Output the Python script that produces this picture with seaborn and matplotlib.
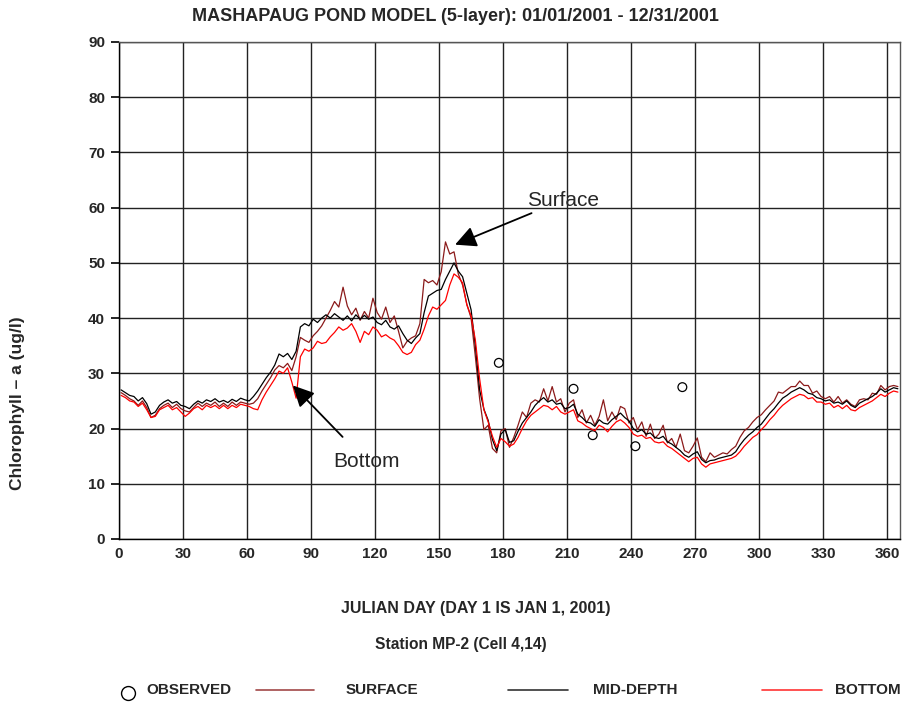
import numpy as np
import pandas as pd
import seaborn as sns
import matplotlib.pyplot as plt
from matplotlib.lines import Line2D

# model output, read every second julian day (1, 3, 5, ... 365)
surface = [
    26.5, 26.0, 25.4, 25.0, 24.2, 25.0, 23.8, 22.0, 22.4, 23.6,
    24.2, 24.6, 23.8, 24.4, 23.6, 23.2, 23.0, 23.8, 24.6, 24.0,
    24.6, 24.2, 24.8, 24.0, 24.6, 24.0, 24.8, 24.2, 24.8, 24.6,
    24.4, 24.6, 25.4, 26.8, 28.0, 29.2, 30.6, 31.4, 31.0, 31.8,
    30.5, 33.0, 36.5, 36.0, 35.6, 36.8, 37.6, 38.6, 40.0, 41.4,
    43.0, 42.0, 45.6, 42.2, 40.6, 41.8, 39.6, 41.2, 40.0, 43.6,
    41.0, 39.8, 42.0, 39.2, 40.4, 37.6, 34.6, 35.8, 36.4, 36.8,
    39.0, 47.0, 46.4, 46.8, 46.0, 48.4, 53.8, 51.6, 52.0, 48.0,
    46.0, 42.5, 40.0, 33.0, 25.4, 19.8, 20.6, 16.4, 15.6, 19.6,
    20.0, 16.6, 18.4, 20.6, 23.0, 22.0, 24.6, 25.2, 24.8, 27.2,
    25.0, 27.6, 24.8, 25.4, 23.0, 24.6, 25.2, 22.0, 23.4, 21.0,
    22.4, 20.6, 22.2, 25.2, 21.4, 23.0, 21.6, 24.0, 23.6, 21.0,
    22.0, 19.8, 21.2, 18.6, 20.8, 18.2, 19.0, 20.6, 17.4, 18.2,
    16.6, 19.0, 16.0, 15.6, 16.8, 18.3, 14.8, 14.0, 15.6, 14.8,
    15.2, 15.6, 15.4, 16.2, 16.8, 18.4, 19.6, 20.2, 21.2, 22.0,
    22.5, 23.4, 24.2, 25.0, 26.6, 26.4, 27.0, 27.6, 27.6, 28.6,
    27.8, 27.8, 26.4, 26.8, 25.8, 25.4, 25.8, 24.8, 25.8, 24.6,
    25.2, 24.4, 24.0, 25.2, 25.4, 25.2, 26.4, 26.2, 27.8, 27.0,
    27.6, 27.8, 27.6,
]
mid_depth = [
    27.0, 26.5, 26.0, 25.8, 25.0, 25.6, 24.5, 22.6, 23.0, 24.2,
    24.8, 25.2, 24.6, 24.9, 24.2, 24.0, 23.6, 24.4, 25.0, 24.6,
    25.2, 24.9, 25.4, 24.8, 25.1, 24.7, 25.3, 24.9, 25.5, 25.2,
    25.0, 25.8, 26.8, 28.0, 29.2, 30.2, 31.5, 33.5, 33.0, 33.6,
    32.5, 34.0, 38.4, 39.0, 38.6, 39.8, 39.2, 40.0, 40.6, 40.0,
    40.8, 40.2, 39.6, 40.4, 39.5, 40.6, 39.8, 40.5, 39.8, 40.2,
    39.2, 38.8, 39.6, 38.4, 38.0, 38.6, 37.2, 36.0, 35.4, 36.4,
    37.2, 41.0, 44.0, 44.5, 45.0, 45.2, 47.0, 48.5, 50.0, 48.5,
    47.5, 44.5, 41.5, 35.0, 27.0, 23.5, 21.5, 18.0, 16.0, 19.0,
    19.8, 17.5, 17.8, 19.5, 21.0, 22.0, 23.0, 24.2, 25.0, 25.6,
    24.8, 25.2, 24.4, 24.6, 23.6, 23.8, 24.4, 22.6, 22.0, 21.2,
    21.0, 20.4, 21.6, 21.0, 20.8, 21.6, 22.2, 22.8, 22.0, 21.4,
    20.0, 19.4, 19.8, 19.0, 19.2, 18.4, 18.2, 18.6, 17.6, 17.2,
    16.6, 16.0, 15.2, 14.8, 15.4, 15.8, 14.4, 13.8, 14.2, 14.3,
    14.6, 14.8, 15.0, 15.2, 15.8, 17.0, 18.0, 18.8, 19.4, 20.2,
    20.8, 21.8, 22.8, 23.6, 24.6, 25.5, 26.0, 26.6, 27.0, 27.4,
    27.0, 26.4, 26.2, 25.6, 25.4, 25.0, 25.2, 24.6, 24.8, 24.4,
    25.0, 24.2, 23.8, 24.6, 25.0, 25.4, 25.8, 26.4, 27.2, 26.6,
    27.0, 27.4, 27.2,
]
bottom = [
    26.0, 25.6, 25.0, 24.8, 24.0, 24.6, 23.4, 22.0, 22.2, 23.4,
    23.8, 24.2, 23.4, 23.8, 23.0, 22.2, 22.8, 23.6, 24.0, 23.4,
    24.2, 23.8, 24.2, 23.6, 24.2, 23.6, 24.2, 23.8, 24.4, 24.2,
    24.0, 23.6, 23.4, 25.2, 26.6, 27.8, 29.0, 30.4, 30.0, 31.0,
    28.4, 25.5, 33.0, 34.4, 34.0, 34.6, 35.8, 35.4, 35.6, 36.6,
    37.4, 38.4, 37.8, 38.2, 39.0, 37.6, 35.6, 37.6, 37.0, 38.4,
    37.8, 36.6, 37.0, 36.4, 36.0, 35.0, 33.8, 33.4, 33.8, 35.2,
    36.0, 38.0, 40.4, 42.0, 41.6, 42.4, 43.2, 46.0, 48.0, 47.4,
    46.4, 42.4, 40.4, 36.0, 29.0, 23.4, 21.2, 18.6, 16.6, 18.2,
    17.6, 16.8, 17.2, 18.4, 20.0, 21.4, 22.4, 23.0, 23.6, 24.2,
    24.0, 23.4, 24.0, 23.0, 22.6, 23.0, 23.4, 21.4, 21.0, 20.4,
    20.0, 19.6, 20.6, 20.2, 19.4, 20.4, 21.2, 21.6, 21.0, 20.2,
    19.0, 18.6, 18.8, 18.2, 18.4, 17.6, 17.4, 17.6, 16.8, 16.4,
    15.8, 15.2, 14.6, 14.0, 14.6, 14.8, 13.6, 13.0, 13.6, 13.8,
    14.0, 14.2, 14.4, 14.6, 15.0, 15.8, 16.8, 17.6, 18.4, 18.9,
    19.8, 20.6, 21.6, 22.4, 23.4, 24.2, 24.8, 25.4, 25.8, 26.2,
    26.0, 25.4, 25.6, 24.8, 24.8, 24.4, 24.6, 23.8, 24.2, 23.6,
    24.2, 23.4, 23.2, 23.8, 24.2, 24.6, 25.0, 25.6, 26.2, 25.8,
    26.4, 26.8, 26.6,
]
days = np.arange(1, 2 * len(mid_depth), 2)

obs_day = [178, 213, 222, 242, 264]
obs_chl = [31.9, 27.2, 18.8, 16.8, 27.5]

x_ticks = list(range(0, 361, 30))
y_ticks = list(range(0, 91, 10))

colors = {"SURFACE": "#8b1a1a", "MID-DEPTH": "black", "BOTTOM": "red"}

df = pd.concat([
    pd.DataFrame({"day": days, "chl": surface, "layer": "SURFACE"}),
    pd.DataFrame({"day": days, "chl": mid_depth, "layer": "MID-DEPTH"}),
    pd.DataFrame({"day": days, "chl": bottom, "layer": "BOTTOM"}),
])
obs = pd.DataFrame({"day": obs_day, "chl": obs_chl})

sns.set_style("white")
plt.rcParams["font.family"] = ["Liberation Sans", "DejaVu Sans"]
plt.rcParams["font.weight"] = "bold"

fig = plt.figure(figsize=(9.07, 7.02), dpi=100)
ax = fig.add_axes([0.1312, 0.2322, 0.8611, 0.708])

sns.lineplot(data=df, x="day", y="chl", hue="layer", palette=colors,
             estimator=None, lw=0.9, legend=False, ax=ax)
sns.scatterplot(data=obs, x="day", y="chl", marker="o", s=40,
                facecolor="none", edgecolor="black", linewidth=0.9, ax=ax)

ax.set_xlim(0, 366)
ax.set_ylim(0, 90)
ax.set_xticks(x_ticks)
ax.set_yticks(y_ticks)
ax.grid(True, color="#222222", lw=1.0)
ax.tick_params(axis="x", length=0, labelsize=11, pad=6)
ax.tick_params(axis="y", length=6, width=1.2, direction="out", left=True,
               labelsize=11, pad=4, color="black")
for s in ax.spines.values():
    s.set_color("#555555")
    s.set_linewidth(1.0)
ax.spines["left"].set_color("black")
ax.spines["bottom"].set_color("black")
ax.set_xlabel("")
ax.set_ylabel("")

ax.annotate("Surface", xy=(157.5, 53.3), xytext=(191, 59.6), fontsize=15,
            fontweight="normal", ha="left", va="bottom",
            arrowprops=dict(arrowstyle="-|>", color="black", lw=1.3,
                            mutation_scale=32, shrinkA=0, shrinkB=0))
ax.annotate("Bottom", xy=(81.5, 27.8), xytext=(116, 14.0), fontsize=15,
            fontweight="normal", ha="center", va="center",
            arrowprops=dict(arrowstyle="-|>", color="black", lw=1.3,
                            mutation_scale=32, shrinkA=12, shrinkB=0))

fig.text(0.5017, 0.977, "MASHAPAUG POND MODEL (5-layer): 01/01/2001 - 12/31/2001",
         ha="center", va="center", fontsize=13, fontweight="bold")
fig.text(0.525, 0.1325, "JULIAN DAY (DAY 1 IS JAN 1, 2001)",
         ha="center", va="center", fontsize=11.5, fontweight="bold")
fig.text(0.5085, 0.0812, "Station MP-2 (Cell 4,14)",
         ha="center", va="center", fontsize=11.2, fontweight="bold")
fig.text(0.0198, 0.426, "Chlorophyll \u2013 a (ug/l)", rotation=90,
         ha="center", va="center", fontsize=12.5, fontweight="bold")

# hand-placed legend row along the bottom
ly = 1 - 690 / 702
fig.add_artist(Line2D([128 / 907], [1 - 693 / 702], marker="o", ms=10,
                      mfc="none", mec="black", mew=1.0, ls="none"))
fig.text(146 / 907, ly, "OBSERVED", ha="left", va="center", fontsize=11)
for (x0, x1, tx, name) in [(256, 314, 346, "SURFACE"),
                           (508, 568, 593, "MID-DEPTH"),
                           (762, 822, 835, "BOTTOM")]:
    fig.add_artist(Line2D([x0 / 907, x1 / 907], [ly, ly],
                          color=colors[name], lw=1.2, alpha=0.8))
    fig.text(tx / 907, ly, name, ha="left", va="center", fontsize=11)

fig.savefig("out.png", dpi=100)
